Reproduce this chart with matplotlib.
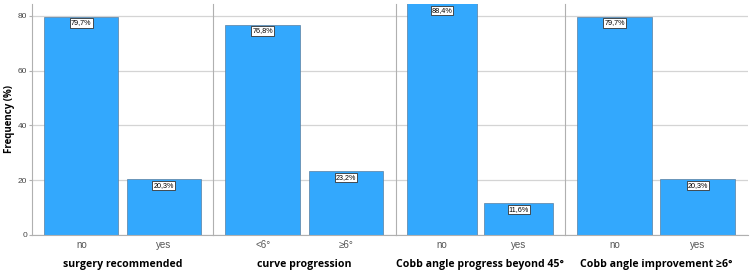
import numpy as np
import matplotlib.pyplot as plt

# ---------------------------------- DATA ----------------------------------
titles = ["surgery recommended", "curve progression",
          "Cobb angle progress beyond 45°", "Cobb angle improvement ≥6°"]
categories = [["no", "yes"], ["<6°", "≥6°"], ["no", "yes"], ["no", "yes"]]
freq_surgery = [79.7, 20.3]
freq_curve = [76.8, 23.2]
freq_beyond45 = [88.4, 11.6]
freq_improve = [79.7, 20.3]
all_freqs = [freq_surgery, freq_curve, freq_beyond45, freq_improve]
yticks = [0, 20, 40, 60, 80]
YMAX = 84.4  # tallest bar runs past the top of the axis, like in SPSS output

BAR = "#33a8fd"
EDGE = "#5a7fa0"
LINE = "#b0b0b0"

plt.rcParams["font.family"] = ["Liberation Sans", "DejaVu Sans"]

fig, axes = plt.subplots(1, 4, figsize=(7.5, 2.76), dpi=100, sharey=True,
                         gridspec_kw={"width_ratios": [181, 183, 169, 183]})
fig.subplots_adjust(left=0.0427, right=0.997, top=0.986, bottom=0.149, wspace=0)

for i, ax in enumerate(axes):
    vals = all_freqs[i]
    x = np.arange(len(vals))
    ax.set_axisbelow(True)
    ax.grid(axis="y", color="#d4d4d4", linewidth=0.9)
    ax.bar(x, vals, width=0.9, color=BAR, edgecolor=EDGE, linewidth=0.5, zorder=2)
    for xi, v in zip(x, vals):
        ax.annotate(f"{v:.1f}%".replace(".", ","), (xi, min(v, YMAX)), xytext=(0, -2),
                    textcoords="offset points", ha="center", va="top",
                    fontsize=5.2, zorder=3,
                    bbox=dict(boxstyle="square,pad=0.15", fc="white", ec="#333333", lw=0.6))
    ax.set_xlim(-0.6, 1.6)
    ax.set_ylim(0, YMAX)
    ax.set_xticks(x)
    ax.set_xticklabels(categories[i], fontsize=7, color="#555555")
    ax.tick_params(axis="x", length=0, pad=4)
    ax.set_xlabel(titles[i], fontsize=7.6, fontweight="bold", labelpad=6,
                  family=["Open Sans", "DejaVu Sans"])
    for s in ["top", "right"]:
        ax.spines[s].set_visible(False)
    ax.spines["left"].set_color(LINE)
    ax.spines["bottom"].set_color(LINE)
    if i == 0:
        ax.set_yticks(yticks)
        ax.tick_params(axis="y", labelsize=6, colors="#444444", length=2, pad=1.5, color=LINE)
        ax.set_ylabel("Frequency (%)", fontsize=7, fontweight="bold", labelpad=2,
                      family=["Open Sans", "DejaVu Sans"])
    else:
        ax.tick_params(axis="y", length=0)

plt.savefig("out.png")
